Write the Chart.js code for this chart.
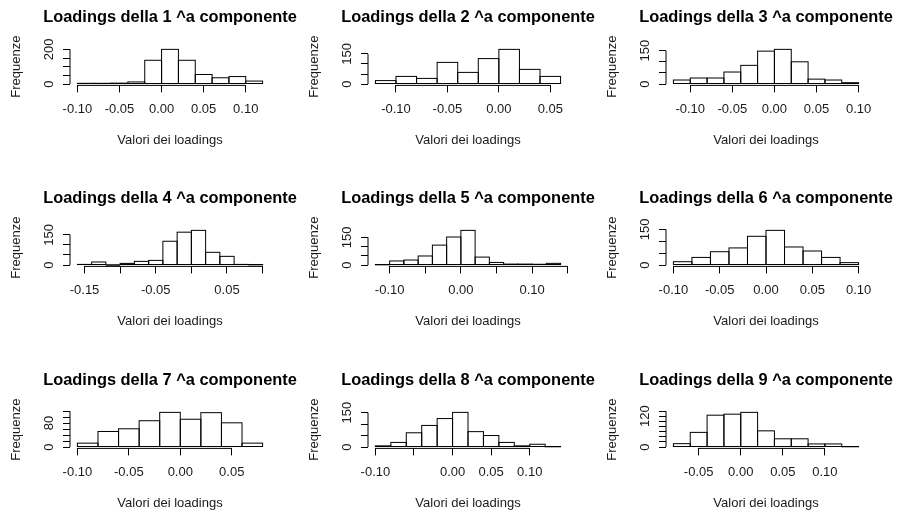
<!DOCTYPE html>
<html><head><meta charset="utf-8">
<script src="https://cdn.jsdelivr.net/npm/chart.js@4.4.0/dist/chart.umd.min.js"></script>
<style>
html,body{margin:0;padding:0;background:#fff;width:898px;height:518px;overflow:hidden;}
body{position:relative;}
canvas{position:absolute;}
</style></head><body>
<script>
// ---- data (bin breaks, counts, axis ticks) ----
const titles = [
  "Loadings della 1 ^a componente", "Loadings della 2 ^a componente", "Loadings della 3 ^a componente",
  "Loadings della 4 ^a componente", "Loadings della 5 ^a componente", "Loadings della 6 ^a componente",
  "Loadings della 7 ^a componente", "Loadings della 8 ^a componente", "Loadings della 9 ^a componente"
];
const xTitle = "Valori dei loadings";
const yTitle = "Frequenze";

const breaks1 = [-0.10,-0.08,-0.06,-0.04,-0.02,0.00,0.02,0.04,0.06,0.08,0.10,0.12];
const counts1 = [4, 4, 5, 12, 137, 200, 137, 55, 36, 43, 17];
const xTicks1 = [-0.10,-0.05,0.00,0.05,0.10];
const xLabels1 = ["-0.10","-0.05","0.00","0.05","0.10"];
const yTicks1 = [0,50,100,150,200];
const yLabels1 = [0,200];

const breaks2 = [-0.12,-0.10,-0.08,-0.06,-0.04,-0.02,0.00,0.02,0.04,0.06];
const counts2 = [17, 38, 28, 108, 58, 127, 173, 73, 38];
const xTicks2 = [-0.10,-0.05,0.00,0.05];
const xLabels2 = ["-0.10","-0.05","0.00","0.05"];
const yTicks2 = [0,50,100,150];
const yLabels2 = [0,150];

const breaks3 = [-0.12,-0.10,-0.08,-0.06,-0.04,-0.02,0.00,0.02,0.04,0.06,0.08,0.10];
const counts3 = [18, 27, 27, 54, 84, 148, 156, 100, 22, 18, 6];
const xTicks3 = [-0.10,-0.05,0.00,0.05,0.10];
const xLabels3 = ["-0.10","-0.05","0.00","0.05","0.10"];
const yTicks3 = [0,50,100,150];
const yLabels3 = [0,150];

const breaks4 = [-0.16,-0.14,-0.12,-0.10,-0.08,-0.06,-0.04,-0.02,0.00,0.02,0.04,0.06,0.08,0.10];
const counts4 = [3, 15, 0, 8, 18, 23, 118, 163, 172, 63, 43, 3, 1];
const xTicks4 = [-0.15,-0.10,-0.05,0.00,0.05,0.10];
const xLabels4 = ["-0.15","","-0.05","","0.05",""];
const yTicks4 = [0,50,100,150];
const yLabels4 = [0,150];

const breaks5 = [-0.12,-0.10,-0.08,-0.06,-0.04,-0.02,0.00,0.02,0.04,0.06,0.08,0.10,0.12,0.14];
const counts5 = [1, 22, 27, 49, 108, 152, 188, 43, 14, 5, 5, 4, 9];
const xTicks5 = [-0.10,-0.05,0.00,0.05,0.10,0.15];
const xLabels5 = ["-0.10","","0.00","","0.10",""];
const yTicks5 = [0,50,100,150];
const yLabels5 = [0,150];

const breaks6 = [-0.10,-0.08,-0.06,-0.04,-0.02,0.00,0.02,0.04,0.06,0.08,0.10];
const counts6 = [14, 32, 56, 72, 121, 146, 76, 59, 32, 10];
const xTicks6 = [-0.10,-0.05,0.00,0.05,0.10];
const xLabels6 = ["-0.10","-0.05","0.00","0.05","0.10"];
const yTicks6 = [0,50,100,150];
const yLabels6 = [0,150];

const breaks7 = [-0.10,-0.08,-0.06,-0.04,-0.02,0.00,0.02,0.04,0.06,0.08];
const counts7 = [13, 52, 61, 88, 116, 93, 115, 81, 13];
const xTicks7 = [-0.10,-0.05,0.00,0.05];
const xLabels7 = ["-0.10","-0.05","0.00","0.05"];
const yTicks7 = [0,20,40,60,80,100,120];
const yLabels7 = [0,80];

const breaks8 = [-0.10,-0.08,-0.06,-0.04,-0.02,0.00,0.02,0.04,0.06,0.08,0.10,0.12,0.14];
const counts8 = [5, 20, 62, 94, 124, 151, 67, 50, 20, 5, 12, 1];
const xTicks8 = [-0.10,-0.05,0.00,0.05,0.10];
const xLabels8 = ["-0.10","","0.00","0.05","0.10"];
const yTicks8 = [0,50,100,150];
const yLabels8 = [0,150];

const breaks9 = [-0.08,-0.06,-0.04,-0.02,0.00,0.02,0.04,0.06,0.08,0.10,0.12,0.14];
const counts9 = [13, 57, 124, 128, 135, 63, 32, 32, 12, 12, 1];
const xTicks9 = [-0.05,0.00,0.05,0.10];
const xLabels9 = ["-0.05","0.00","0.05","0.10"];
const yTicks9 = [0,20,40,60,80,100,120,140];
const yLabels9 = [0,120];

const panels = [
  {breaks: breaks1, counts: counts1, xTicks: xTicks1, xLabels: xLabels1, yTicks: yTicks1, yLabels: yLabels1},
  {breaks: breaks2, counts: counts2, xTicks: xTicks2, xLabels: xLabels2, yTicks: yTicks2, yLabels: yLabels2},
  {breaks: breaks3, counts: counts3, xTicks: xTicks3, xLabels: xLabels3, yTicks: yTicks3, yLabels: yLabels3},
  {breaks: breaks4, counts: counts4, xTicks: xTicks4, xLabels: xLabels4, yTicks: yTicks4, yLabels: yLabels4},
  {breaks: breaks5, counts: counts5, xTicks: xTicks5, xLabels: xLabels5, yTicks: yTicks5, yLabels: yLabels5},
  {breaks: breaks6, counts: counts6, xTicks: xTicks6, xLabels: xLabels6, yTicks: yTicks6, yLabels: yLabels6},
  {breaks: breaks7, counts: counts7, xTicks: xTicks7, xLabels: xLabels7, yTicks: yTicks7, yLabels: yLabels7},
  {breaks: breaks8, counts: counts8, xTicks: xTicks8, xLabels: xLabels8, yTicks: yTicks8, yLabels: yLabels8},
  {breaks: breaks9, counts: counts9, xTicks: xTicks9, xLabels: xLabels9, yTicks: yTicks9, yLabels: yLabels9}
];

// ---- layout / style ----
const FAMILY = "'Liberation Sans', Arial, Helvetica, sans-serif";
const TEXT = '#1a1a1a';
const colLeft = [0, 298, 596];
const rowTop = [0, 181, 363];
const CW = 340, CH = 181;

const mctx = document.createElement('canvas').getContext('2d');
mctx.font = "13px " + FAMILY;

function makeChart(idx) {
  const p = panels[idx];
  const canvas = document.createElement('canvas');
  canvas.width = CW; canvas.height = CH;
  canvas.style.left = colLeft[idx % 3] + 'px';
  canvas.style.top = rowTop[Math.floor(idx / 3)] + 'px';
  canvas.style.width = CW + 'px'; canvas.style.height = CH + 'px';
  document.body.appendChild(canvas);

  const n = p.breaks.length - 1;
  const lo = p.breaks[0], hi = p.breaks[n];
  const M = Math.max(...p.counts);
  const data = p.counts.map((c, i) => ({x: (p.breaks[i] + p.breaks[i + 1]) / 2, y: c}));
  const widest = Math.max(...p.yLabels.map(v => mctx.measureText(String(v)).width));

  const rPlugin = {
    id: 'rAxes' + idx,
    afterDraw(chart) {
      const {ctx, chartArea} = chart;
      const xs = chart.scales.x, ys = chart.scales.y;
      ctx.save();
      ctx.strokeStyle = '#000';
      ctx.lineWidth = 1;
      const meta = chart.getDatasetMeta(0);
      meta.data.forEach(el => {
        const {x, y, base, width} = el.getProps(['x', 'y', 'base', 'width'], true);
        ctx.strokeRect(x - width / 2, y, width, base - y);
      });
      ctx.beginPath();
      ctx.moveTo(xs.getPixelForValue(p.xTicks[0]), chartArea.bottom);
      ctx.lineTo(xs.getPixelForValue(p.xTicks[p.xTicks.length - 1]), chartArea.bottom);
      ctx.moveTo(chartArea.left, ys.getPixelForValue(p.yTicks[0]));
      ctx.lineTo(chartArea.left, ys.getPixelForValue(p.yTicks[p.yTicks.length - 1]));
      ctx.stroke();
      ctx.restore();
    }
  };

  const gridOpts = {display: true, drawOnChartArea: false, drawTicks: true, tickLength: 7, color: '#000', lineWidth: 1, offset: false};

  new Chart(canvas, {
    type: 'bar',
    data: {datasets: [{data, backgroundColor: '#fff', borderWidth: 0, barPercentage: 1, categoryPercentage: 1}]},
    options: {
      responsive: false, animation: false, devicePixelRatio: 1,
      layout: {padding: {left: 0, right: 0, top: 0, bottom: 0}},
      plugins: {
        legend: {display: false}, tooltip: {enabled: false},
        title: {display: true, text: titles[idx], color: '#000',
          font: {family: FAMILY, size: 16.4, weight: 'bold', lineHeight: 1.2},
          padding: {top: 7.4, bottom: 20.9}}
      },
      scales: {
        x: {
          type: 'linear', offset: false,
          min: lo - 0.04 * (hi - lo), max: hi + 0.04 * (hi - lo),
          afterBuildTicks: s => { s.ticks = p.xTicks.map(v => ({value: v})); },
          afterFit: s => { s.height = 95.6; s.paddingLeft = 0; s.paddingRight = 0; },
          grid: gridOpts, border: {display: false},
          ticks: {autoSkip: false, minRotation: 0, maxRotation: 0, padding: 9.6, color: TEXT,
            font: {family: FAMILY, size: 13}, callback: (v, i) => p.xLabels[i]},
          title: {display: true, text: xTitle, color: TEXT, font: {family: FAMILY, size: 13, lineHeight: 1.2},
            padding: {top: 0, bottom: 33.2}}
        },
        y: {
          type: 'linear', position: 'left',
          min: -0.04 * M, max: 1.04 * M,
          afterBuildTicks: s => { s.ticks = p.yTicks.map(v => ({value: v})); },
          afterFit: s => { s.width = 70; s.paddingTop = 0; s.paddingBottom = 0; },
          grid: gridOpts, border: {display: false},
          ticks: {autoSkip: false, minRotation: 90, maxRotation: 90, crossAlign: 'center',
            padding: 14 - widest / 2, color: TEXT, font: {family: FAMILY, size: 13},
            callback: v => p.yLabels.includes(v) ? String(v) : ''},
          title: {display: true, text: yTitle, color: TEXT, font: {family: FAMILY, size: 13, lineHeight: 1.2},
            padding: {top: 8.8, bottom: 0}}
        },
        yr: {
          type: 'linear', position: 'right', display: true,
          grid: {display: false}, border: {display: false}, ticks: {display: false},
          afterFit: s => { s.width = 70; s.paddingTop = 0; s.paddingBottom = 0; }
        }
      }
    },
    plugins: [rPlugin]
  });
}

for (let i = 0; i < panels.length; i++) makeChart(i);
</script>
</body></html>
